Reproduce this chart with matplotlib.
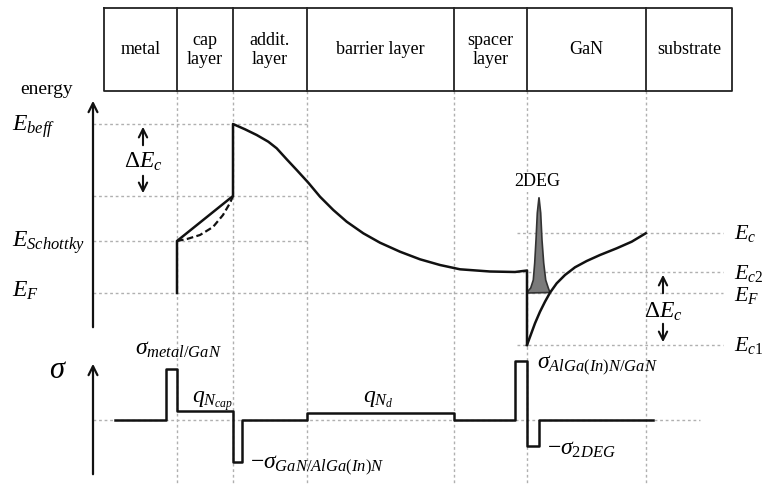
import matplotlib
matplotlib.use("Agg")
import matplotlib.pyplot as plt

plt.rcParams['font.family'] = ['Liberation Serif', 'DejaVu Serif']
plt.rcParams['mathtext.fontset'] = 'custom'
plt.rcParams['mathtext.rm'] = 'Liberation Serif'
plt.rcParams['mathtext.it'] = 'Liberation Serif:italic'
plt.rcParams['mathtext.bf'] = 'Liberation Serif:bold'

# layer boxes on top (pixel coordinates)
layer_edges = [104, 177, 233, 307, 454, 527, 646, 732]
layer_names = ["metal", "cap\nlayer", "addit.\nlayer", "barrier layer",
               "spacer\nlayer", "GaN", "substrate"]
box_top, box_bottom = 8, 91

# conduction band: metal / cap / additional layer / barrier / spacer
band1_x = [177, 177, 233, 233, 245, 256.7, 268.3, 276.7, 286.7, 296.7, 308.3,
           320, 333.3, 346.7, 363.3, 380, 400, 420, 440, 460, 490, 515, 527, 527]
band1_y = [293, 241, 196, 124, 129.3, 135, 141.7, 148.3, 159.3, 170, 182.7,
           196.7, 210, 221.7, 233.3, 242.7, 251.7, 259.3, 265, 269.3, 271.5, 272, 270.5, 345]
# conduction band in GaN
band2_x = [527, 530.7, 535, 540, 545, 550, 556.7, 565, 575, 586.7, 600, 616.7, 631.7, 645.7]
band2_y = [345, 335, 323.3, 311.7, 301.7, 292.7, 283.3, 275, 267.3, 261, 255, 248.3, 241.7, 233.3]
# dashed alternative band in the cap layer
cap_dash_x = [177, 187, 200, 213, 223, 230, 233]
cap_dash_y = [241, 239, 235, 227, 215, 203, 196]

# 2DEG electron density peak
peak_x = [527, 528.3, 530.7, 533.3, 534.7, 536, 537.3, 539, 540.7, 542, 543.7, 545.7, 548.3, 550]
peak_y = [293, 290.7, 288, 280, 263, 240, 213, 197.3, 213, 240, 263, 280, 288, 292.5]

# charge profile sigma
sigma_x = [115, 166, 166, 177, 177, 233, 233, 242, 242, 307, 307, 454, 454,
           515, 515, 527, 527, 539, 539, 653]
sigma_y = [420, 420, 369, 369, 411, 411, 462, 462, 420, 420, 413, 413, 420,
           420, 361, 361, 446, 446, 420, 420]

# dotted guide lines
vguide_x = [177, 233, 307, 454, 527, 646]
hguide_y = [124, 196, 241, 293, 233, 272, 345, 420]
hguide_x0 = [93, 93, 93, 93, 517, 517, 517, 93]
hguide_x1 = [307, 307, 307, 723, 723, 723, 723, 700]

fig = plt.figure(figsize=(7.64, 4.84), dpi=100)
ax = fig.add_axes([0, 0, 1, 1])
ax.set_xlim(0, 764)
ax.set_ylim(484, 0)
ax.axis('off')

guide = dict(color='#b0b0b0', lw=1, linestyle=(0, (2, 2)), zorder=1)
for x in vguide_x:
    ax.plot([x, x], [box_bottom, 484], **guide)
for y, x0, x1 in zip(hguide_y, hguide_x0, hguide_x1):
    ax.plot([x0, x1], [y, y], **guide)

# boxes
ax.plot([layer_edges[0], layer_edges[-1], layer_edges[-1], layer_edges[0], layer_edges[0]],
        [box_top, box_top, box_bottom, box_bottom, box_top], color='#222222', lw=1.3)
for x in layer_edges[1:-1]:
    ax.plot([x, x], [box_top, box_bottom], color='#222222', lw=1.3)
for i, name in enumerate(layer_names):
    xc = (layer_edges[i] + layer_edges[i + 1]) / 2
    ax.text(xc, 50, name, ha='center', va='center', fontsize=13, linespacing=1.1)

# band lines
ax.plot(band1_x, band1_y, color='#111111', lw=1.8, solid_joinstyle='round', zorder=3)
ax.plot(band2_x, band2_y, color='#111111', lw=1.8, solid_joinstyle='round', zorder=3)
ax.plot(cap_dash_x, cap_dash_y, color='#111111', lw=1.6, linestyle=(0, (3, 1.5)), zorder=3)
ax.fill(peak_x, peak_y, facecolor='#7a7a7a', edgecolor='#333333', lw=1.2, zorder=2)
ax.plot(sigma_x, sigma_y, color='#111111', lw=1.8, zorder=3)

# axes arrows
arr = dict(arrowstyle='->', lw=1.6, color='#111111', mutation_scale=16)
ax.annotate('', xy=(93, 98), xytext=(93, 330), arrowprops=arr)
ax.annotate('', xy=(93, 361), xytext=(93, 477), arrowprops=arr)
small = dict(arrowstyle='->', lw=1.5, color='#111111', mutation_scale=15)
ax.annotate('', xy=(143, 124), xytext=(143, 148), arrowprops=small)
ax.annotate('', xy=(143, 196), xytext=(143, 173), arrowprops=small)
ax.annotate('', xy=(663, 272), xytext=(663, 296), arrowprops=small)
ax.annotate('', xy=(663, 345), xytext=(663, 321), arrowprops=small)

# labels
ax.text(47, 90, "energy", ha='center', va='center', fontsize=14)
ax.text(537, 182, "2DEG", ha='center', va='center', fontsize=13,
        bbox=dict(facecolor='white', edgecolor='none', pad=1), zorder=4)
big = 17
ax.text(12, 127, r'$E_{beff}$', ha='left', va='center', fontsize=big)
ax.text(143, 162, r'$\Delta E_c$', ha='center', va='center', fontsize=big)
ax.text(12, 243, r'$E_{Schottky}$', ha='left', va='center', fontsize=big)
ax.text(12, 291, r'$E_F$', ha='left', va='center', fontsize=big)
ax.text(734, 234, r'$E_c$', ha='left', va='center', fontsize=16)
ax.text(734, 274, r'$E_{c2}$', ha='left', va='center', fontsize=16)
ax.text(734, 295, r'$E_F$', ha='left', va='center', fontsize=16)
ax.text(734, 346, r'$E_{c1}$', ha='left', va='center', fontsize=16)
ax.text(663, 312, r'$\Delta E_c$', ha='center', va='center', fontsize=big)
ax.text(58, 370, r'$\sigma$', ha='center', va='center', fontsize=22)
ax.text(135, 350, r'$\sigma_{metal/GaN}$', ha='left', va='center', fontsize=big)
ax.text(192, 402, r'$q_{N_{cap}}$', ha='left', va='center', fontsize=big)
ax.text(250, 466, r'$-\sigma_{GaN/AlGa(In)N}$', ha='left', va='center', fontsize=big)
ax.text(363, 400, r'$q_{N_d}$', ha='left', va='center', fontsize=big)
ax.text(537, 366, r'$\sigma_{AlGa(In)N/GaN}$', ha='left', va='center', fontsize=big)
ax.text(547, 449, r'$-\sigma_{2DEG}$', ha='left', va='center', fontsize=big)

fig.savefig("out.png", dpi=100)
